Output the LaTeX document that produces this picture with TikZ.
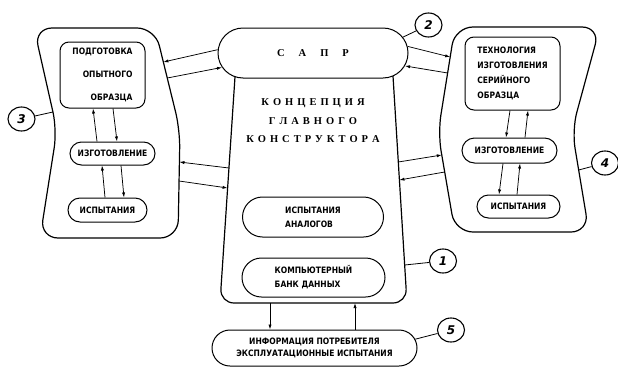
\documentclass[tikz,border=0pt]{standalone}
\usepackage{fontspec}
\setmainfont{DejaVu Sans}[FakeStretch=0.86]
\newfontfamily\ttlfont{Liberation Serif}
\newfontfamily\numfont{DejaVu Sans}
\usetikzlibrary{shapes.misc,shapes.geometric,arrows.meta}
\makeatletter
\newcommand\spaced[2]{\def\spc@gap{#1}\@tfor\spc@c:=#2\do{\spc@c\hskip\spc@gap}\unskip}
\makeatother
\begin{document}
\begin{tikzpicture}[x=1pt,y=-1pt,
  outl/.style={line width=1.2pt},
  txt/.style={font=\fontsize{8.8}{#1}\selectfont\bfseries},
  txt/.default=14,
  box/.style={draw,line width=1pt,rounded corners=9pt,inner sep=0pt},
  pill/.style={draw,line width=1pt,rounded rectangle,inner sep=0pt},
  arr/.style={line width=0.75pt,-{Latex[length=5pt,width=3.2pt]}},
  lnk/.style={line width=0.8pt},
  num/.style={draw,ellipse,line width=1.1pt,minimum width=27pt,minimum height=24pt,inner sep=0pt,
    font=\numfont\bfseries\itshape\fontsize{12}{12}\selectfont},
  ttl/.style={font=\ttlfont\bfseries\fontsize{10.5}{10.5}\selectfont}
]
\useasboundingbox (0,0) rectangle (618,367);

% ---------- outer blocks ----------
\draw[outl][rounded corners=18pt] (34,28) -- (155,28) -- (180,130) -- (178,238) -- (40,238) -- (57,130) -- cycle;
\draw[outl][rounded corners=18pt] (455,27) -- (600,27) -- (572,130) -- (589,232) -- (455,232) -- (438,133) -- cycle;

% ---------- centre ----------
\node[pill,minimum width=190pt,minimum height=50pt,ttl] (sapr) at (313,53) {\spaced{14pt}{САПР}};
\draw[outl] (235,76.7) [rounded corners=14pt] -- (220,303) -- (407,303) -- (393,76);
\node[ttl,align=center] (conc) at (313,121) {\spaced{4pt}{КОНЦЕПЦИЯ}\\[8pt]\spaced{4pt}{ГЛАВНОГО}\\[8pt]\spaced{4pt}{КОНСТРУКТОРА}};
\node[pill,minimum width=141pt,minimum height=40pt,txt,align=left] (anal) at (313,217) {ИСПЫТАНИЯ\\АНАЛОГОВ};
\node[pill,minimum width=143pt,minimum height=39pt,txt,align=left] (bank) at (313.5,277.5) {КОМПЬЮТЕРНЫЙ\\БАНК ДАННЫХ};
\node[pill,minimum width=205pt,minimum height=36pt,txt=12,align=center] (info) at (314.5,348) {ИНФОРМАЦИЯ ПОТРЕБИТЕЛЯ\\ЭКСПЛУАТАЦИОННЫЕ ИСПЫТАНИЯ};

% ---------- left block inner ----------
\node[box,minimum width=85pt,minimum height=66pt,txt=23,align=right] (podg) at (102.5,75) {ПОДГОТОВКА\\ОПЫТНОГО\\ОБРАЗЦА};
\node[pill,minimum width=85pt,minimum height=23pt,txt] (izgL) at (112.5,153.5) {ИЗГОТОВЛЕНИЕ};
\node[pill,minimum width=79pt,minimum height=24pt,txt] (ispL) at (107.5,210) {ИСПЫТАНИЯ};
\draw[arr] ([xshift=-15.5pt]izgL.north) -- ([xshift=-9.5pt]podg.south);
\draw[arr] ([xshift=10.5pt]podg.south) -- ([xshift=4.5pt]izgL.north);
\draw[arr] ([xshift=-2.5pt]ispL.north) -- ([xshift=-10.5pt]izgL.south);
\draw[arr] ([xshift=8.5pt]izgL.south) -- ([xshift=16.5pt]ispL.north);

% ---------- right block inner ----------
\node[box,minimum width=95pt,minimum height=73pt,txt=15,align=left] (tech) at (512.5,73.5) {ТЕХНОЛОГИЯ\\ИЗГОТОВЛЕНИЯ\\СЕРИЙНОГО\\ОБРАЗЦА};
\node[pill,minimum width=95pt,minimum height=25pt,txt] (izgR) at (509.5,150.5) {ИЗГОТОВЛЕНИЕ};
\node[pill,minimum width=83pt,minimum height=23pt,txt] (ispR) at (518.5,206.5) {ИСПЫТАНИЯ};
\draw[arr] ([xshift=-2.5pt]tech.south) -- ([xshift=-3.5pt]izgR.north);
\draw[arr] ([xshift=15.5pt]izgR.north) -- ([xshift=15.5pt]tech.south);
\draw[arr] ([xshift=-6.5pt]izgR.south) -- ([xshift=-19.5pt]ispR.north);
\draw[arr] ([xshift=-1.5pt]ispR.north) -- ([xshift=10.5pt]izgR.south);

% ---------- edge points ----------
\coordinate (Lr1) at (163.4,62);
\coordinate (Lr2) at (167.3,78);
\coordinate (Lr3) at (179.4,162);
\coordinate (Lr4) at (179.1,181);
\coordinate (Ll3) at (52.9,112);
\coordinate (Tl1) at (228.9,168);
\coordinate (Tl2) at (227.6,188);
\coordinate (Tr1) at (398.3,162);
\coordinate (Tr2) at (399.4,180);
\coordinate (Tr3) at (404.7,265);
\coordinate (Rl1) at (450.2,57);
\coordinate (Rl2) at (447.6,73);
\coordinate (Rl3) at (441.8,155);
\coordinate (Rl4) at (444.7,172);
\coordinate (Rr4) at (578.7,170);
\coordinate (Tb1) at (270,303);
\coordinate (Tb2) at (355,303);

% ---------- connectors ----------
\draw[arr] (sapr.178) -- (Lr1);
\draw[arr] (Lr2) -- (sapr.189);
\draw[arr] (sapr.4) -- (Rl1);
\draw[arr] (Rl2) -- (sapr.-8);
\draw[arr] (Tl1) -- (Lr3);
\draw[arr] (Lr4) -- (Tl2);
\draw[arr] (Tr1) -- (Rl3);
\draw[arr] (Rl4) -- (Tr2);
\draw[arr] (Tb1) -- (Tb1 |- info.north);
\draw[arr] (Tb2 |- info.north) -- (Tb2);

% ---------- labels ----------
\node[num] (n1) at (443,261) {1};
\node[num] (n2) at (428.5,25) {2};
\node[num] (n3) at (21.5,119) {3};
\node[num] (n4) at (605,163) {4};
\node[num] (n5) at (451,330) {5};
\draw[lnk] (Tr3) -- (n1);
\draw[lnk] (sapr.10) -- (n2);
\draw[lnk] (Ll3) -- (n3);
\draw[lnk] (Rr4) -- (n4);
\draw[lnk] (info.5) -- (n5);
\end{tikzpicture}
\end{document}
